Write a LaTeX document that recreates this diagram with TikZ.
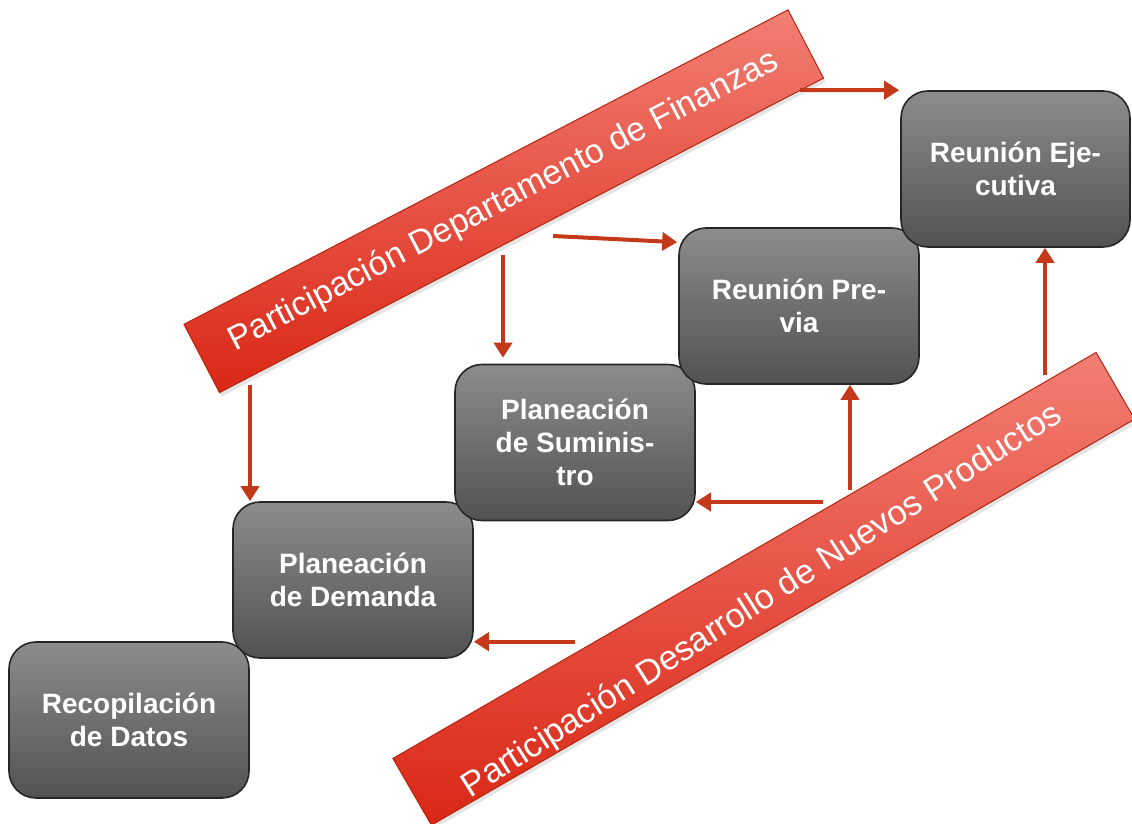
\documentclass[tikz,border=0pt]{standalone}
\usepackage{fontspec}
\setmainfont{Liberation Sans}
\usetikzlibrary{arrows.meta,shadows,calc}

\definecolor{arrowred}{HTML}{C4391A}
\definecolor{barlight}{HTML}{F27E73}
\definecolor{barmid}{HTML}{EA4B3D}
\definecolor{bardark}{HTML}{DA2716}
\definecolor{barline}{HTML}{B3260F}
\definecolor{boxtop}{HTML}{8C8C8C}
\definecolor{boxbottom}{HTML}{525252}

\begin{document}
\begin{tikzpicture}[x=1pt,y=1pt,
  stage/.style={rounded corners=27pt, draw=black!85, line width=1.6pt,
    top color=boxtop, bottom color=boxbottom,
    minimum width=240pt, minimum height=156pt, inner sep=0pt,
    align=center, text=white, font=\fontsize{28}{33}\selectfont\bfseries},
  band/.style={draw=barline, line width=1pt,
    top color=barlight, middle color=barmid, bottom color=bardark,
    minimum height=77pt, inner sep=0pt, text=white,
    font=\fontsize{34}{40}\selectfont,
    drop shadow={opacity=0.2, shadow xshift=2pt, shadow yshift=-4pt}},
  bandtext/.style={text=white, inner sep=0pt, font=\fontsize{34.5}{40}\selectfont},
  flow/.style={draw=arrowred, line width=4pt,
    -{Triangle[length=15pt,width=18pt]}}
]
\useasboundingbox (0,0) rectangle (1132,824);
\fill[white] (0,0) rectangle (1132,824);
\clip (0,0) rectangle (1132,824);

% process stages, climbing from bottom left to top right
\node[stage] (rec)  at (129,104)    {Recopilación\\de Datos};
\node[stage] (dem)  at (353,244)    {Planeación\\de Demanda};
\node[stage] (sum)  at (575,381.5)  {Planeación\\de Suminis-\\tro};
\node[stage] (prev) at (799,518)    {Reunión Pre-\\via};
\node[stage, minimum width=229pt] (ejec) at (1015.5,655) {Reunión Eje-\\cutiva};

% participation bands
\node[band, minimum width=681pt, rotate=27.5] (fin) at (503.75,622.75)
  {Participación Departamento de Finanzas};
\node[band, minimum width=812pt, rotate=30] (dnp) at (763.75,235.2) {};
\node[bandtext, rotate=32.5] (dnptext) at (762.5,222.5)
  {Participación Desarrollo de Nuevos Productos};

% arrow origins along the bands
\coordinate (f1) at (250,439);
\coordinate (f2) at (503,569);
\coordinate (f3) at (553,588);
\coordinate (f4) at (800,734);
\coordinate (d1) at (575,182.3);
\coordinate (d2) at (823,322);
\coordinate (d3) at (850,334);
\coordinate (d4) at (1045,449);

% finance inputs
\draw[flow] (f1) -- (dem.north -| f1);
\draw[flow] (f2) -- ($(sum.north -| f2)+(0,6)$);
\draw[flow] (f3) -- ($(prev.north west)+(-1,-15)$);
\draw[flow] (f4) -- ($(ejec.north west)+(-1,0)$);

% new product development inputs
\draw[flow] (d1) -- (dem.east |- d1);
\draw[flow] (d2) -- (sum.east |- d2);
\draw[flow] (d3) -- (d3 |- prev.south);
\draw[flow] (d4) -- (d4 |- ejec.south);
\end{tikzpicture}
\end{document}
